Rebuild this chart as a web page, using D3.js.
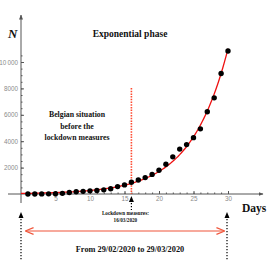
<!DOCTYPE html>
<html lang="en">
<head>
<meta charset="UTF-8">
<title>Exponential phase</title>
<style>
  body { margin: 0; background: #fff; }
  .serif { font-family: "Liberation Serif", "DejaVu Serif", serif; font-weight: bold; fill: #111; }
  .tick text { font-family: "Liberation Sans", sans-serif; font-size: 6.3px; fill: #8a8a8a; }
</style>
</head>
<body>
<div id="chart"></div>
<script src="https://d3js.org/d3.v7.min.js"></script>
<script>
// days since 29/02/2020 and cumulative cases
var days = d3.range(1, 31);
var cases = [1, 2, 8, 13, 23, 50, 109, 169, 200, 239, 267, 314, 399, 559, 689,
             886, 1058, 1243, 1486, 1795, 2257, 2815, 3401, 3743, 4269, 4937,
             6235, 7284, 9134, 10836];
var xTicks = [5, 10, 15, 20, 25, 30];
var yTicks = [2000, 4000, 6000, 8000, 10000];
// exponential fit N = a * exp(b t)
var fitA = 40.9, fitB = 0.1865;
var lockdownDay = 16;

var W = 273, H = 273;
var svg = d3.select("#chart").append("svg")
    .attr("width", W).attr("height", H);

var x = d3.scaleLinear().domain([0, 30]).range([21, 228]);
var y = d3.scaleLinear().domain([0, 10000]).range([194, 62]);

var axisColor = "#555";

// markers
var defs = svg.append("defs");
defs.append("marker").attr("id", "ah").attr("viewBox", "0 0 10 10")
    .attr("refX", 9).attr("refY", 5).attr("markerWidth", 5).attr("markerHeight", 5)
    .attr("orient", "auto-start-reverse")
  .append("path").attr("d", "M0,1 L10,5 L0,9 Z").attr("fill", axisColor);
defs.append("marker").attr("id", "rh").attr("viewBox", "0 0 10 10")
    .attr("refX", 9).attr("refY", 5).attr("markerWidth", 7).attr("markerHeight", 7)
    .attr("orient", "auto-start-reverse")
  .append("path").attr("d", "M0,1 L10,5 L0,9").attr("fill", "none")
    .attr("stroke", "#f0553a").attr("stroke-width", 1.4);

// x axis
var gx = svg.append("g").attr("transform", "translate(0," + y(0) + ")");
gx.call(d3.axisTop(x).tickValues(d3.range(1, 31)).tickSize(1.5).tickFormat(""))
  .call(function (g) { g.select(".domain").remove(); });
gx.selectAll(".tick line").attr("stroke", axisColor);
var gxl = svg.append("g").attr("transform", "translate(0," + y(0) + ")");
gxl.call(d3.axisBottom(x).tickValues(xTicks).tickSize(0).tickPadding(3))
  .call(function (g) { g.select(".domain").remove(); });
svg.append("g").attr("transform", "translate(0," + y(0) + ")")
  .call(d3.axisTop(x).tickValues(xTicks).tickSize(3).tickFormat(""))
  .call(function (g) { g.select(".domain").remove(); })
  .selectAll(".tick line").attr("stroke", axisColor);
svg.append("line")
    .attr("x1", 8).attr("x2", 263).attr("y1", y(0)).attr("y2", y(0))
    .attr("stroke", axisColor).attr("stroke-width", 1).attr("marker-end", "url(#ah)");

// y axis
svg.append("g").attr("transform", "translate(" + x(0) + ",0)")
  .call(d3.axisRight(y).tickValues(d3.range(500, 11000, 500)).tickSize(1.5).tickFormat(""))
  .call(function (g) { g.select(".domain").remove(); })
  .selectAll(".tick line").attr("stroke", axisColor);
svg.append("g").attr("transform", "translate(" + x(0) + ",0)")
  .call(d3.axisLeft(y).tickValues(yTicks).tickSize(0).tickPadding(3)
        .tickFormat(function (d) { return d >= 10000 ? "10\u2009000" : d; }))
  .call(function (g) { g.select(".domain").remove(); });
svg.append("g").attr("transform", "translate(" + x(0) + ",0)")
  .call(d3.axisRight(y).tickValues(yTicks).tickSize(3).tickFormat(""))
  .call(function (g) { g.select(".domain").remove(); })
  .selectAll(".tick line").attr("stroke", axisColor);
svg.append("line")
    .attr("x1", x(0)).attr("x2", x(0)).attr("y1", 203).attr("y2", 15)
    .attr("stroke", axisColor).attr("stroke-width", 1).attr("marker-end", "url(#ah)");

// lockdown vertical dotted line
svg.append("line")
    .attr("x1", x(lockdownDay)).attr("x2", x(lockdownDay))
    .attr("y1", 88).attr("y2", y(0))
    .attr("stroke", "#ff4a30").attr("stroke-width", 1.6)
    .attr("stroke-dasharray", "1.5,1.2");

// fit curve
var fitPts = d3.range(0, 30.01, 0.25).map(function (t) { return [t, fitA * Math.exp(fitB * t)]; });
svg.append("path").datum(fitPts)
    .attr("fill", "none").attr("stroke", "#ee1111").attr("stroke-width", 1.3)
    .attr("d", d3.line().x(function (d) { return x(d[0]); }).y(function (d) { return y(d[1]); }));

// data points
svg.selectAll("circle.pt").data(days).enter().append("circle")
    .attr("class", "pt")
    .attr("cx", function (d) { return x(d); })
    .attr("cy", function (d, i) { return y(cases[i]); })
    .attr("r", 2.7).attr("fill", "#000");

// texts
svg.append("text").attr("class", "serif").attr("x", 8).attr("y", 38)
    .style("font-size", "13px").style("font-style", "italic").text("N");
svg.append("text").attr("class", "serif").attr("x", 130).attr("y", 37)
    .attr("text-anchor", "middle").style("font-size", "9.5px").text("Exponential phase");
var belg = ["Belgian situation", "before the", "lockdown measures"];
svg.selectAll("text.belg").data(belg).enter().append("text")
    .attr("class", "serif belg").attr("x", 77)
    .attr("y", function (d, i) { return 117 + i * 11.5; })
    .attr("text-anchor", "middle").style("font-size", "7.8px")
    .text(function (d) { return d; });
svg.append("text").attr("class", "serif").attr("x", 242).attr("y", 212)
    .style("font-size", "11.5px").text("Days");
svg.append("text").attr("class", "serif").attr("x", x(lockdownDay) - 6).attr("y", 215)
    .attr("text-anchor", "middle").style("font-size", "5.2px").text("Lockdown measures:");
svg.append("text").attr("class", "serif").attr("x", x(lockdownDay) - 6).attr("y", 221.5)
    .attr("text-anchor", "middle").style("font-size", "5.2px").text("16/03/2020");
svg.append("text").attr("class", "serif").attr("x", 130).attr("y", 252)
    .attr("text-anchor", "middle").style("font-size", "8.3px").text("From 29/02/2020 to 29/03/2020");

// black upward arrows with dotted stems
function upArrow(cx, tipY, bottomY) {
  svg.append("path")
      .attr("d", "M" + cx + "," + tipY + " L" + (cx - 2.5) + "," + (tipY + 6) + " L" + (cx + 2.5) + "," + (tipY + 6) + " Z")
      .attr("fill", "#000");
  svg.append("line")
      .attr("x1", cx).attr("x2", cx).attr("y1", tipY + 7).attr("y2", bottomY)
      .attr("stroke", "#000").attr("stroke-width", 1.2).attr("stroke-dasharray", "1.2,1.8");
}
upArrow(x(lockdownDay), 196, 210);
upArrow(x(0), 212, 260);
upArrow(x(30) - 1, 212, 260);

// red double arrow
svg.append("line")
    .attr("x1", 26).attr("x2", 224).attr("y1", 231).attr("y2", 231)
    .attr("stroke", "#f0553a").attr("stroke-width", 1.2)
    .attr("marker-start", "url(#rh)").attr("marker-end", "url(#rh)");
</script>
</body>
</html>
